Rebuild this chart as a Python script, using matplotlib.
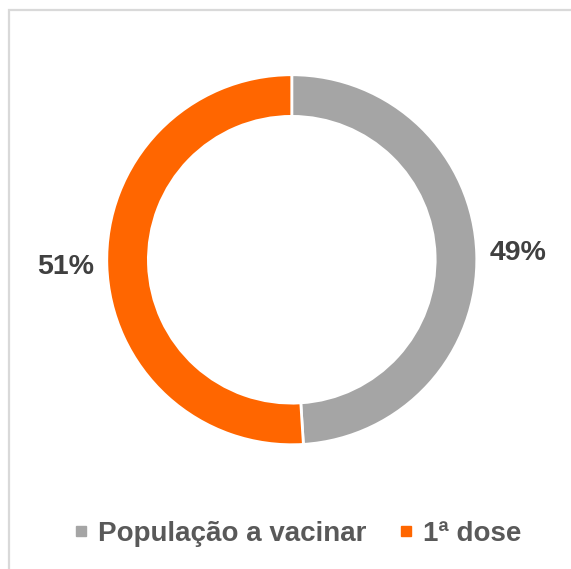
import matplotlib
matplotlib.use("Agg")
import matplotlib.pyplot as plt
from matplotlib.lines import Line2D
from matplotlib.patches import Rectangle

# data
categories = ["População a vacinar", "1ª dose"]
values = [49, 51]
colors = ["#a5a5a5", "#ff6600"]

plt.rcParams['font.family'] = ['Liberation Sans', 'DejaVu Sans']

fig = plt.figure(figsize=(5.71, 5.69), dpi=100)

# light gray frame (right/bottom edges cropped off in the original)
fig.patches.append(Rectangle((9 / 571, -0.05), 1.2, 1 - 10 / 569 + 0.05,
                             transform=fig.transFigure, fill=False,
                             edgecolor="#d9d9d9", linewidth=1.6))

ax = fig.add_axes([0.106, 0.137, 0.81, 0.813])
wedges, texts, autotexts = ax.pie(
    values, colors=colors, startangle=90, counterclock=False,
    radius=1.0, autopct="%d%%", pctdistance=1.225,
    wedgeprops=dict(width=0.225, edgecolor="white", linewidth=2),
    textprops=dict(fontsize=20.5, fontweight="bold", color="#404040"))
ax.set_xlim(-1.25, 1.25)
ax.set_ylim(-1.25, 1.25)
ax.set_aspect("equal")
ax.axis("off")

handles = [Line2D([], [], marker="s", linestyle="", markersize=7.5,
                  markerfacecolor=c, markeredgecolor=c) for c in colors]
fig.legend(handles, categories, loc="center", bbox_to_anchor=(0.519, 0.0615),
           ncol=2, frameon=False, handlelength=0.7, handletextpad=0.25,
           columnspacing=1.1, borderpad=0, borderaxespad=0,
           prop=dict(size=20, weight="bold"), labelcolor="#595959")

fig.savefig("out.png", dpi=100)
